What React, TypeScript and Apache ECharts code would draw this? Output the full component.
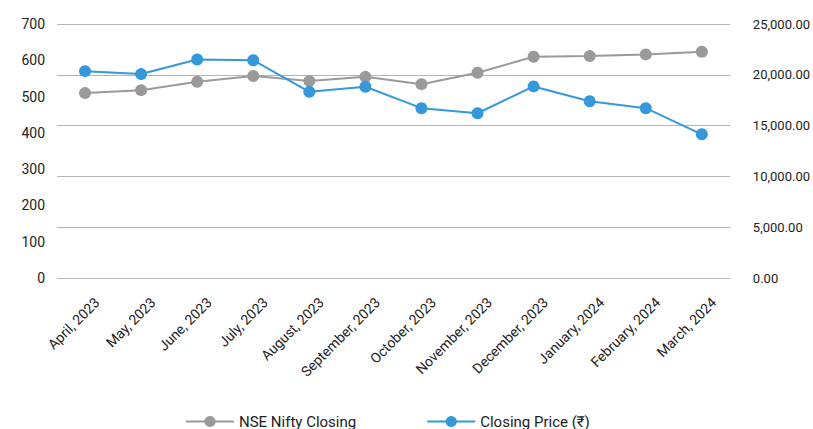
import React, { useEffect, useRef } from "react";
import * as echarts from "echarts";

const categories = [
  "April, 2023", "May, 2023", "June, 2023", "July, 2023", "August, 2023", "September, 2023",
  "October, 2023", "November, 2023", "December, 2023", "January, 2024", "February, 2024", "March, 2024",
];
const niftyClosing = [18200, 18490, 19310, 19880, 19380, 19800, 19080, 20200, 21775, 21840, 22010, 22270];
const closingPrice = [570, 562, 602, 600, 513, 527, 468, 454, 528, 487, 468, 396];

const FONT = "Roboto";

export default function App() {
  const ref = useRef<HTMLDivElement>(null);
  useEffect(() => {
    document.body.style.margin = "0";
    if (!ref.current) return;
    const chart = echarts.init(ref.current, null, { renderer: "svg" });
    chart.setOption({
      animation: false,
      textStyle: { fontFamily: FONT },
      grid: { left: 57, right: 83, top: 24, bottom: 151, containLabel: false },
      legend: {
        left: 180,
        top: 409,
        itemWidth: 48,
        itemHeight: 14,
        itemGap: 70,
        textStyle: { fontFamily: FONT, fontSize: 15, color: "#222" },
        data: ["NSE Nifty Closing", "Closing Price (₹)"],
      },
      xAxis: {
        type: "category",
        data: categories,
        boundaryGap: true,
        axisLine: { show: false },
        axisTick: { show: false },
        axisLabel: {
          interval: 0,
          rotate: 45,
          margin: 10,
          align: "right",
          verticalAlign: "top",
          lineHeight: 34,
          fontFamily: FONT,
          fontSize: 14,
          color: "#222",
        },
      },
      yAxis: [
        {
          type: "value",
          position: "left",
          min: 0,
          max: 700,
          interval: 100,
          axisLine: { show: false },
          axisTick: { show: false },
          splitLine: { show: false },
          axisLabel: { margin: 12, fontFamily: FONT, fontSize: 14, color: "#222" },
        },
        {
          type: "value",
          position: "right",
          min: 0,
          max: 25000,
          interval: 5000,
          axisLine: { show: false },
          axisTick: { show: false },
          splitLine: { show: true, lineStyle: { color: "#b5b5b5", width: 1 } },
          axisLabel: {
            margin: 23,
            fontFamily: FONT,
            fontSize: 13,
            color: "#222",
            formatter: (v: number) =>
              v.toLocaleString("en-US", { minimumFractionDigits: 2, maximumFractionDigits: 2 }),
          },
        },
      ],
      series: [
        {
          name: "NSE Nifty Closing",
          type: "line",
          yAxisIndex: 1,
          data: niftyClosing,
          symbol: "circle",
          symbolSize: 12,
          showSymbol: true,
          itemStyle: { color: "#9a9a9a" },
          lineStyle: { color: "#9a9a9a", width: 2 },
        },
        {
          name: "Closing Price (₹)",
          type: "line",
          yAxisIndex: 0,
          data: closingPrice,
          symbol: "circle",
          symbolSize: 12,
          showSymbol: true,
          itemStyle: { color: "#3498db" },
          lineStyle: { color: "#3498db", width: 2 },
        },
      ],
    });
    return () => chart.dispose();
  }, []);
  return <div ref={ref} style={{ width: 813, height: 429 }} />;
}
